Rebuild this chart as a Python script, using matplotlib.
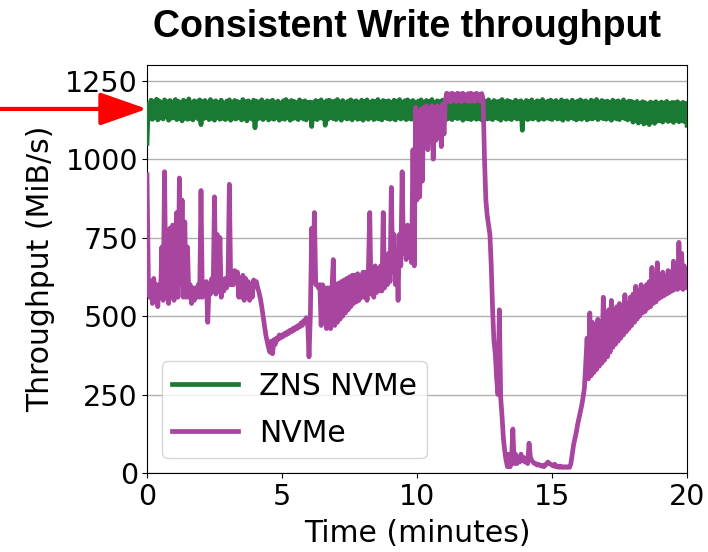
import matplotlib
matplotlib.use("Agg")
import matplotlib.pyplot as plt
import numpy as np

# ---- data ----
time_step = 0.05  # minutes between samples
zns_nvme = [
    1050, 1175, 1130, 1188, 1127, 1184, 1134, 1191, 1125, 1186, 1131, 1180, 1128, 1189, 1136, 1183, 1124, 1187, 1130, 1182,
    1133, 1190, 1126, 1185, 1129, 1181, 1122, 1188, 1131, 1184, 1127, 1192, 1130, 1179, 1125, 1186, 1134, 1183, 1128, 1189,
    1110, 1184, 1129, 1187, 1132, 1180, 1126, 1190, 1130, 1183, 1124, 1186, 1133, 1181, 1127, 1188, 1130, 1178, 1126, 1185,
    1131, 1189, 1124, 1182, 1130, 1187, 1128, 1184, 1133, 1180, 1125, 1190, 1129, 1183, 1122, 1186, 1131, 1181, 1127, 1188,
    1100, 1185, 1128, 1182, 1131, 1189, 1126, 1180, 1134, 1186, 1125, 1183, 1130, 1188, 1127, 1181, 1133, 1185, 1124, 1179,
    1130, 1186, 1127, 1190, 1132, 1182, 1124, 1187, 1129, 1184, 1131, 1180, 1126, 1189, 1133, 1183, 1128, 1186, 1125, 1181,
    1135, 1182, 1104, 1180, 1128, 1187, 1126, 1184, 1131, 1189, 1130, 1181, 1108, 1186, 1127, 1188, 1133, 1183, 1129, 1185,
    1126, 1190, 1131, 1182, 1124, 1187, 1133, 1180, 1128, 1185, 1130, 1189, 1125, 1183, 1132, 1186, 1127, 1181, 1130, 1188,
    1124, 1184, 1131, 1189, 1127, 1181, 1133, 1186, 1126, 1183, 1130, 1190, 1128, 1182, 1125, 1187, 1132, 1184, 1129, 1186,
    1127, 1181, 1130, 1188, 1125, 1184, 1133, 1190, 1128, 1182, 1131, 1186, 1126, 1189, 1130, 1183, 1127, 1187, 1132, 1180,
    1129, 1185, 1126, 1189, 1131, 1182, 1127, 1187, 1130, 1184, 1124, 1190, 1133, 1181, 1128, 1186, 1130, 1183, 1125, 1188,
    1132, 1184, 1127, 1190, 1130, 1182, 1126, 1187, 1133, 1185, 1129, 1180, 1131, 1189, 1124, 1183, 1130, 1186, 1128, 1181,
    1126, 1188, 1131, 1183, 1127, 1190, 1130, 1182, 1125, 1186, 1133, 1184, 1128, 1189, 1130, 1181, 1126, 1187, 1132, 1183,
    1129, 1185, 1124, 1190, 1131, 1182, 1127, 1187, 1130, 1184, 1126, 1181, 1133, 1188, 1128, 1183, 1130, 1186, 1092, 1180,
    1131, 1187, 1126, 1183, 1130, 1189, 1128, 1181, 1133, 1186, 1125, 1184, 1130, 1190, 1127, 1182, 1131, 1185, 1129, 1188,
    1126, 1183, 1132, 1187, 1128, 1181, 1130, 1189, 1124, 1184, 1131, 1186, 1127, 1180, 1133, 1188, 1129, 1182, 1125, 1185,
    1130, 1189, 1127, 1183, 1132, 1186, 1125, 1181, 1130, 1188, 1128, 1184, 1133, 1190, 1126, 1182, 1131, 1187, 1129, 1183,
    1127, 1185, 1130, 1180, 1124, 1188, 1131, 1183, 1128, 1186, 1126, 1182, 1132, 1189, 1129, 1181, 1125, 1185, 1130, 1184,
    1118, 1180, 1122, 1184, 1115, 1178, 1120, 1183, 1112, 1180, 1117, 1176, 1110, 1182, 1119, 1179, 1114, 1183, 1121, 1177,
    1122, 1182, 1118, 1179, 1125, 1184, 1120, 1178, 1123, 1181, 1117, 1180, 1124, 1183, 1119, 1177, 1122, 1181, 1120, 1178,
    1108,
]
nvme = [
    950, 620, 560, 610, 540, 620, 560, 600, 530, 600, 560, 720, 550, 960, 580, 650, 540, 780, 560, 790,
    550, 700, 830, 560, 940, 600, 870, 560, 800, 560, 720, 560, 600, 540, 590, 550, 590, 560, 600, 560,
    900, 560, 600, 570, 610, 480, 600, 570, 620, 580, 880, 570, 760, 580, 750, 560, 600, 580, 620, 590,
    610, 920, 600, 640, 600, 645, 610, 640, 560, 620, 560, 630, 550, 620, 560, 610, 550, 600, 560, 615,
    600, 610, 590, 575, 555, 530, 500, 470, 440, 420, 400, 385, 420, 380, 425, 410, 430, 425, 440, 430,
    440, 435, 445, 440, 450, 445, 455, 450, 460, 455, 465, 460, 470, 465, 478, 470, 485, 478, 495, 485,
    370, 500, 780, 610, 830, 600, 600, 590, 600, 470, 600, 480, 590, 460, 590, 470, 460, 590, 680, 470,
    600, 480, 605, 490, 610, 500, 615, 510, 620, 520, 625, 530, 630, 540, 630, 545, 635, 550, 625, 560,
    640, 560, 640, 550, 650, 830, 570, 650, 560, 660, 575, 650, 580, 660, 580, 830, 590, 670, 600, 700,
    610, 910, 640, 760, 600, 700, 550, 760, 660, 960, 700, 780, 680, 790, 690, 720, 670, 1030, 660, 1165,
    870, 1150, 880, 1160, 930, 1165, 1050, 1170, 1030, 1160, 1060, 1170, 1000, 1165, 1060, 1170, 1070, 1165, 1040, 1175,
    1080, 1185, 1210, 1185, 1208, 1182, 1210, 1188, 1206, 1184, 1210, 1186, 1208, 1183, 1210, 1187, 1205, 1185, 1209, 1184,
    1210, 1186, 1207, 1184, 1210, 1188, 1206, 1185, 1209, 1190, 1000, 870, 820, 790, 760, 660, 520, 420, 380, 300,
    250, 520, 240, 180, 110, 70, 40, 20, 60, 20, 40, 140, 30, 60, 30, 50, 35, 60, 40, 50,
    35, 40, 30, 95, 50, 40, 35, 30, 30, 25, 28, 25, 22, 25, 20, 25, 30, 35, 30, 28,
    25, 22, 28, 20, 22, 18, 22, 18, 20, 18, 20, 18, 20, 18, 30, 60, 90, 110, 130, 155,
    175, 195, 215, 240, 270, 350, 430, 300, 510, 310, 480, 320, 470, 330, 490, 340, 480, 350, 560, 360,
    500, 370, 520, 385, 550, 400, 520, 410, 530, 420, 540, 430, 530, 440, 568, 450, 540, 460, 560, 470,
    570, 480, 595, 490, 580, 500, 600, 510, 590, 515, 600, 525, 610, 530, 655, 540, 620, 545, 670, 555,
    630, 560, 640, 565, 625, 570, 645, 575, 640, 580, 675, 585, 650, 585, 735, 590, 700, 585, 660, 590,
    600,
]
series_labels = ["ZNS NVMe", "NVMe"]
series_colors = ["#1a7a34", "#a8459f"]
y_ticks = [0, 250, 500, 750, 1000, 1250]
x_ticks = [0, 5, 10, 15, 20]
arrow_level = 1160

t_zns = np.arange(len(zns_nvme)) * time_step
t_nvme = np.arange(len(nvme)) * time_step

fig = plt.figure(figsize=(7.08, 5.52), dpi=100)
ax = fig.add_axes([147/708, 79/552, 540/708, 408/552])

ax.plot(t_zns, zns_nvme, color=series_colors[0], lw=3.4, label=series_labels[0], zorder=3)
ax.plot(t_nvme, nvme, color=series_colors[1], lw=3.4, label=series_labels[1], zorder=4)

ax.set_xlim(0, 20)
ax.set_ylim(0, 1300)
ax.set_xticks(x_ticks)
ax.set_yticks(y_ticks)
ax.tick_params(labelsize=20.5)
ax.tick_params(axis="y", pad=3)
ax.yaxis.grid(True, color="#b0b0b0", lw=1)
ax.set_axisbelow(True)
ax.set_xlabel("Time (minutes)", fontsize=21.5, labelpad=6)
ax.set_ylabel("Throughput (MiB/s)", fontsize=21.5, labelpad=7)

ax.legend(loc="lower left", fontsize=21.5, handlelength=2.2, handletextpad=0.7,
          borderpad=0.35, labelspacing=0.6)

fig.text(407/708, 1 - 27/552, "Consistent Write throughput", fontsize=27,
         fontweight="bold", family="Liberation Sans", ha="center", va="center")

ax.annotate("", xy=(0, arrow_level), xycoords=("axes fraction", "data"),
            xytext=(-147/540, arrow_level), textcoords=("axes fraction", "data"),
            arrowprops=dict(arrowstyle="-|>,head_length=1.0,head_width=0.35",
                            color="red", lw=3, mutation_scale=29,
                            shrinkA=0, shrinkB=0),
            annotation_clip=False)

fig.savefig("out.png", dpi=100)
